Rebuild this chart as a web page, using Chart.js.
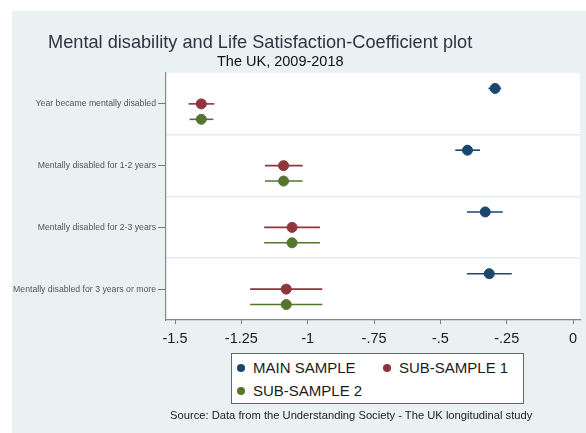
<!DOCTYPE html>
<html>
<head>
<meta charset="utf-8">
<script src="https://cdn.jsdelivr.net/npm/chart.js@4/dist/chart.umd.min.js"></script>
<style>
  html, body { margin: 0; padding: 0; background: #fff; }
  #wrap { position: relative; width: 586px; height: 433px; font-family: Arial, "Liberation Sans", sans-serif; }
  #c { position: absolute; left: 0; top: 0; }
  .txt { position: absolute; white-space: nowrap; line-height: 1; }
  #title { left: 48px; top: 33px; font-size: 18.2px; color: #2e3440; }
  #subtitle { left: 217px; top: 54px; font-size: 14.5px; color: #111; }
  #legend { position: absolute; left: 231px; top: 353px; width: 286px; height: 46px; background: #fff;
            border: 1px solid #666; padding: 3px 0 0 5px; box-sizing: content-box;
            display: grid; grid-template-columns: 146px auto; font-size: 15px; line-height: 22px; color: #1b1b1b; }
  #legend span.dot { display: inline-block; width: 8px; height: 8px; border-radius: 50%; margin-right: 8px; vertical-align: 1px; }
  #source { left: 170px; top: 410px; font-size: 11.2px; color: #222; }
</style>
</head>
<body>
<div id="wrap">
  <canvas id="c" width="586" height="433"></canvas>
  <div class="txt" id="title">Mental disability and Life Satisfaction-Coefficient plot</div>
  <div class="txt" id="subtitle">The UK, 2009-2018</div>
  <div id="legend"></div>
  <div class="txt" id="source">Source: Data from the Understanding Society - The UK longitudinal study</div>
</div>
<script>
// categorias (de cima para baixo)
const categorias = [
  "Year became mentally disabled",
  "Mentally disabled for 1-2 years",
  "Mentally disabled for 2-3 years",
  "Mentally disabled for 3 years or more"
];

// coeficientes e intervalos de confiança
const mainCoef = [-0.294, -0.398, -0.331, -0.316];
const mainLo   = [-0.319, -0.444, -0.400, -0.400];
const mainHi   = [-0.271, -0.351, -0.265, -0.231];

const sub1Coef = [-1.401, -1.091, -1.059, -1.081];
const sub1Lo   = [-1.449, -1.161, -1.164, -1.217];
const sub1Hi   = [-1.352, -1.019, -0.954, -0.945];

const sub2Coef = [-1.401, -1.091, -1.059, -1.081];
const sub2Lo   = [-1.445, -1.161, -1.164, -1.217];
const sub2Hi   = [-1.356, -1.019, -0.954, -0.945];

const xTicks = [-1.5, -1.25, -1, -0.75, -0.5, -0.25, 0];
const xTickLabels = ["-1.5", "-1.25", "-1", "-.75", "-.5", "-.25", "0"];

function montarPontos(coef, lo, hi, desloc) {
  return coef.map((v, i) => ({ x: v, y: i + 1 + desloc, lo: lo[i], hi: hi[i] }));
}

// fundo cinza azulado + área do gráfico branca
const fundo = {
  id: "fundo",
  beforeDraw(chart) {
    const { ctx, chartArea: a } = chart;
    ctx.save();
    ctx.fillStyle = "#fff";
    ctx.fillRect(0, 0, chart.width, chart.height);
    ctx.fillStyle = "#e9f1f3";
    ctx.fillRect(12, 11, chart.width - 12, chart.height - 11);
    ctx.fillStyle = "#fff";
    ctx.fillRect(a.left, a.top, a.right - a.left, a.bottom - a.top);
    ctx.restore();
  }
};

// barras de erro horizontais
const barrasErro = {
  id: "barrasErro",
  beforeDatasetsDraw(chart) {
    const { ctx, scales } = chart;
    ctx.save();
    chart.data.datasets.forEach(ds => {
      ctx.strokeStyle = ds.borderColor;
      ctx.lineWidth = 1.6;
      ds.data.forEach(p => {
        const y = scales.y.getPixelForValue(p.y);
        ctx.beginPath();
        ctx.moveTo(scales.x.getPixelForValue(p.lo), y);
        ctx.lineTo(scales.x.getPixelForValue(p.hi), y);
        ctx.stroke();
      });
    });
    ctx.restore();
  }
};

const chart = new Chart(document.getElementById("c").getContext("2d"), {
  type: "scatter",
  data: {
    datasets: [
      { label: "MAIN SAMPLE", data: montarPontos(mainCoef, mainLo, mainHi, -0.25),
        backgroundColor: "#1a476f", borderColor: "#1a476f", pointRadius: 5 },
      { label: "SUB-SAMPLE 1", data: montarPontos(sub1Coef, sub1Lo, sub1Hi, 0),
        backgroundColor: "#90353b", borderColor: "#90353b", pointRadius: 5 },
      { label: "SUB-SAMPLE 2", data: montarPontos(sub2Coef, sub2Lo, sub2Hi, 0.25),
        backgroundColor: "#55752f", borderColor: "#55752f", pointRadius: 5 }
    ]
  },
  options: {
    responsive: false,
    animation: false,
    devicePixelRatio: 1,
    layout: { padding: { top: 73, right: 4, bottom: 0, left: 0 } },
    plugins: { legend: { display: false }, tooltip: { enabled: false } },
    scales: {
      x: {
        type: "linear",
        min: -1.534,
        max: 0.026,
        afterBuildTicks: s => { s.ticks = xTicks.map(v => ({ value: v })); },
        afterFit: s => { s.height = 113; },
        ticks: {
          callback: (v) => xTickLabels[xTicks.indexOf(v)],
          font: { family: "Arial, 'Liberation Sans'", size: 14.5 },
          color: "#1b1b1b",
          padding: 6,
          maxRotation: 0,
          autoSkip: false
        },
        grid: { drawOnChartArea: false, drawTicks: true, tickLength: 4, color: "#777" },
        border: { display: true, color: "#888", width: 1.2 }
      },
      y: {
        type: "linear",
        position: "left",
        reverse: true,
        min: 0.5,
        max: 4.5,
        afterBuildTicks: s => { s.ticks = categorias.map((c, i) => ({ value: i + 1 })); },
        afterFit: s => { s.width = 166; },
        ticks: {
          callback: (v) => categorias[v - 1],
          font: { family: "Arial, 'Liberation Sans'", size: 8.7 },
          color: "#555",
          padding: 2,
          autoSkip: false
        },
        grid: { drawOnChartArea: false, drawTicks: true, tickLength: 8, color: "#777" },
        border: { display: true, color: "#888", width: 1.2 }
      },
      yGrade: {
        type: "linear",
        position: "left",
        reverse: true,
        min: 0.5,
        max: 4.5,
        afterBuildTicks: s => { s.ticks = [1.5, 2.5, 3.5].map(v => ({ value: v })); },
        afterFit: s => { s.width = 0; },
        ticks: { display: false },
        grid: { drawTicks: false, color: "#e4ecee", lineWidth: 1.6 },
        border: { display: false }
      }
    }
  },
  plugins: [fundo, barrasErro]
});

// legenda em HTML a partir dos datasets
document.getElementById("legend").innerHTML = chart.data.datasets
  .map(ds => `<div><span class="dot" style="background:${ds.backgroundColor}"></span>${ds.label}</div>`)
  .join("");
</script>
</body>
</html>
